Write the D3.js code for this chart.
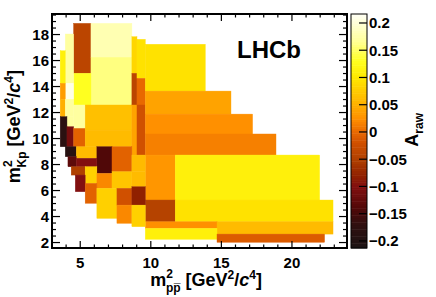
<!DOCTYPE html>
<html>
<head>
<meta charset="utf-8">
<script src="https://cdn.jsdelivr.net/npm/d3@7"></script>
<style>
  body { margin: 0; background: #fff; }
  text { font-family: "Liberation Sans", Arial, Helvetica, sans-serif; font-weight: bold; }
</style>
</head>
<body>
<svg id="chart" width="436" height="297"></svg>
<script>
// adaptive bins: [x0, x1, y0, y1, A_raw]
const bins_x0 = [4.53, 5.76, 5.76, 4.53, 3.94, 3.94, 3.58, 3.58, 3.58, 3.94, 4.53, 4.06,
  3.58, 4.06, 4.53, 5.35, 5.35, 8.66, 8.66, 8.66, 9.02, 9.02, 9.02,
  9.61, 9.61, 9.61, 9.61, 9.61, 11.73, 9.61, 11.73, 9.61, 14.69, 9.61, 14.69,
  3.94, 4.72, 6.18, 7.25, 8.66, 4.13, 4.72, 4.36, 5.35, 4.65, 6.18, 7.25, 8.66,
  5.35, 6.18, 7.60, 8.66, 7.60, 8.66, 8.66];
const bins_x1 = [5.76, 8.66, 8.66, 5.76, 4.53, 4.53, 3.94, 3.94, 3.94, 4.53, 5.35, 4.53,
  4.06, 4.53, 5.35, 8.66, 8.66, 9.02, 9.02, 9.02, 9.61, 9.61, 9.61,
  13.86, 15.68, 17.21, 18.87, 11.73, 21.96, 11.73, 22.91, 14.69, 22.91, 14.69, 22.31,
  4.72, 6.18, 7.25, 8.66, 9.61, 4.72, 6.18, 5.35, 6.18, 5.35, 7.25, 8.66, 9.61,
  6.18, 7.60, 8.66, 9.61, 8.66, 9.61, 9.61];
const bins_y0 = [15.02, 16.25, 12.58, 12.58, 14.25, 13.02, 14.25, 13.02, 11.68, 11.68, 10.78, 10.91,
  9.37, 9.37, 9.37, 10.65, 9.37, 15.02, 12.58, 8.73, 14.63, 12.58, 8.73,
  13.65, 11.88, 10.35, 8.73, 5.27, 5.27, 3.60, 3.60, 3.09, 2.65, 2.25, 2.02,
  8.60, 8.48, 7.32, 7.45, 7.45, 7.83, 7.83, 7.19, 6.55, 5.91, 6.17, 6.17, 6.29,
  5.02, 3.86, 4.88, 4.88, 3.48, 3.22, 8.73];
const bins_y1 = [18.86, 18.86, 16.25, 15.02, 18.04, 14.25, 16.75, 14.25, 13.02, 13.02, 12.58, 11.68,
  11.68, 10.91, 10.78, 12.58, 10.65, 17.83, 15.02, 12.58, 17.63, 14.63, 12.58,
  17.25, 13.65, 11.88, 10.35, 8.73, 8.73, 5.27, 5.27, 3.60, 3.60, 3.09, 2.65,
  9.37, 9.37, 9.37, 9.37, 8.73, 8.60, 8.48, 7.83, 7.83, 7.19, 7.32, 7.45, 7.45,
  6.55, 6.17, 6.17, 6.29, 4.88, 4.88, 8.73];
const bins_val = [-0.04, 0.18, 0.16, 0.13, 0.17, 0.21, 0.11, 0.035, 0.05, 0.17, 0.17, 0.17,
  -0.18, -0.11, -0.005, 0.065, 0.06, 0.085, -0.04, 0.04, 0.095, 0.0, -0.02,
  0.095, 0.04, 0.025, 0.015, 0.03, 0.11, -0.045, 0.095, 0.025, 0.06, 0.11, -0.01,
  -0.19, 0.06, -0.14, -0.005, 0.06, -0.13, -0.1, -0.05, 0.08, -0.1, 0.02, 0.07, 0.06,
  -0.005, 0.08, -0.02, -0.08, 0.02, 0.08, 0.06];

const x_ticks = [5, 10, 15, 20];
const y_ticks = [2, 4, 6, 8, 10, 12, 14, 16, 18];
const z_ticks = [-0.2, -0.15, -0.1, -0.05, 0, 0.05, 0.1, 0.15, 0.2];

// colour palette stops (value -> colour)
const pal_vals = [-0.213, -0.2, -0.17, -0.14, -0.1, -0.08, -0.05, -0.02, 0, 0.025, 0.05, 0.08, 0.1, 0.13, 0.17, 0.2165];
const pal_cols = ["#1c1414", "#221212", "#301010", "#500808", "#821010", "#902000", "#b04000", "#d05000",
  "#e86800", "#ff9000", "#ffb000", "#ffd000", "#ffe800", "#ffff20", "#ffffa0", "#fffff4"];

const margin = {left: 52, right: 89, top: 14, bottom: 49};
const W = 436, H = 297;
const w = W - margin.left - margin.right;
const h = H - margin.top - margin.bottom;

const svg = d3.select('#chart');

const x = d3.scaleLinear().domain([3.0, 23.9]).range([margin.left, margin.left + w]);
const y = d3.scaleLinear().domain([1.58, 19.58]).range([margin.top + h, margin.top]);
const z = d3.scaleLinear().domain([-0.213, 0.2165]).range([margin.top + h, margin.top]);
const color = d3.scaleLinear().domain(pal_vals).range(pal_cols).clamp(true);

const bins = bins_val.map((v, i) => ({x0: bins_x0[i], x1: bins_x1[i], y0: bins_y0[i], y1: bins_y1[i], v}));

// ===============================================================
// Bins
svg.append('g')
  .selectAll('rect')
  .data(bins)
  .join('rect')
  .attr('x', d => x(d.x0))
  .attr('y', d => y(d.y1))
  .attr('width', d => x(d.x1) - x(d.x0))
  .attr('height', d => y(d.y0) - y(d.y1))
  .attr('fill', d => color(d.v))
  .attr('stroke', d => color(d.v))
  .attr('stroke-width', 0.4);

// ===============================================================
// Frame and ticks
const x0 = margin.left, x1 = margin.left + w, y0 = margin.top + h, y1 = margin.top;
const axes = svg.append('g').attr('stroke', 'black');

const x_minor = d3.range(3, 24, 1);
const y_minor = d3.range(2, 19.6, 0.5);

x_minor.forEach(v => {
  const L = x_ticks.includes(v) ? 7 : 3.5;
  axes.append('line').attr('x1', x(v)).attr('x2', x(v)).attr('y1', y0).attr('y2', y0 - L).attr('stroke-width', 1.2);
  axes.append('line').attr('x1', x(v)).attr('x2', x(v)).attr('y1', y1).attr('y2', y1 + L).attr('stroke-width', 1.2);
});
y_minor.forEach(v => {
  const L = y_ticks.includes(v) ? 8 : 4;
  axes.append('line').attr('y1', y(v)).attr('y2', y(v)).attr('x1', x0).attr('x2', x0 + L).attr('stroke-width', 1.2);
  axes.append('line').attr('y1', y(v)).attr('y2', y(v)).attr('x1', x1).attr('x2', x1 - L).attr('stroke-width', 1.2);
});

axes.append('rect')
  .attr('x', x0).attr('y', y1).attr('width', w).attr('height', h)
  .attr('fill', 'none').attr('stroke-width', 2);

svg.append('g')
  .selectAll('text')
  .data(x_ticks)
  .join('text')
  .attr('x', d => x(d))
  .attr('y', 268)
  .attr('text-anchor', 'middle')
  .style('font-size', '15px')
  .text(d => d);

svg.append('g')
  .selectAll('text')
  .data(y_ticks)
  .join('text')
  .attr('x', x0 - 3)
  .attr('y', d => y(d) + 5.5)
  .attr('text-anchor', 'end')
  .style('font-size', '15px')
  .text(d => d);

// axis titles
const xt = svg.append('text')
  .attr('x', 262).attr('y', 286)
  .attr('text-anchor', 'end')
  .style('font-size', '18px');
xt.append('tspan').text('m');
xt.append('tspan').attr('dy', -8).style('font-size', '12px').text('2');
xt.append('tspan').attr('dx', -7).attr('dy', 14).style('font-size', '12px').text('pp\u0305');
xt.append('tspan').attr('dy', -6).text(' [GeV');
xt.append('tspan').attr('dy', -7).style('font-size', '12px').text('2');
xt.append('tspan').attr('dy', 7).text('/');
xt.append('tspan').style('font-style', 'italic').text('c');
xt.append('tspan').attr('dy', -7).style('font-size', '12px').text('4');
xt.append('tspan').attr('dy', 7).text(']');

const yt = svg.append('text')
  .attr('transform', 'translate(20,70) rotate(-90)')
  .attr('text-anchor', 'end')
  .style('font-size', '18px');
yt.append('tspan').text('m');
yt.append('tspan').attr('dy', -8).style('font-size', '12px').text('2');
yt.append('tspan').attr('dx', -7).attr('dy', 14).style('font-size', '12px').text('Kp');
yt.append('tspan').attr('dy', -6).text(' [GeV');
yt.append('tspan').attr('dy', -7).style('font-size', '12px').text('2');
yt.append('tspan').attr('dy', 7).text('/');
yt.append('tspan').style('font-style', 'italic').text('c');
yt.append('tspan').attr('dy', -7).style('font-size', '12px').text('4');
yt.append('tspan').attr('dy', 7).text(']');

svg.append('text')
  .attr('x', 237).attr('y', 58)
  .style('font-size', '24px')
  .text('LHCb');

// ===============================================================
// Colour bar
const cb_x = 351, cb_w = 16;
const cb_steps = d3.range(-0.213, 0.2165, 0.0043);
svg.append('g')
  .selectAll('rect')
  .data(cb_steps)
  .join('rect')
  .attr('x', cb_x)
  .attr('width', cb_w)
  .attr('y', d => z(d + 0.0043))
  .attr('height', d => z(d) - z(d + 0.0043) + 0.5)
  .attr('fill', d => color(d + 0.00215));

svg.append('rect')
  .attr('x', cb_x).attr('y', z.range()[1]).attr('width', cb_w).attr('height', h)
  .attr('fill', 'none').attr('stroke', 'black').attr('stroke-width', 1);

const zt = svg.append('g');
z_ticks.forEach(v => {
  zt.append('line')
    .attr('x1', cb_x + cb_w - 8).attr('x2', cb_x + cb_w)
    .attr('y1', z(v)).attr('y2', z(v))
    .attr('stroke', 'black').attr('stroke-width', 1.2);
  zt.append('text')
    .attr('x', cb_x + cb_w + 2)
    .attr('y', z(v) + 5.5)
    .style('font-size', '15px')
    .text(d3.format('')(Math.round(v * 100) / 100));
});

const zl = svg.append('text')
  .attr('transform', 'translate(418,113) rotate(-90)')
  .attr('text-anchor', 'end')
  .style('font-size', '18px');
zl.append('tspan').text('A');
zl.append('tspan').attr('dy', 5).style('font-size', '12px').text('raw');
</script>
</body>
</html>
